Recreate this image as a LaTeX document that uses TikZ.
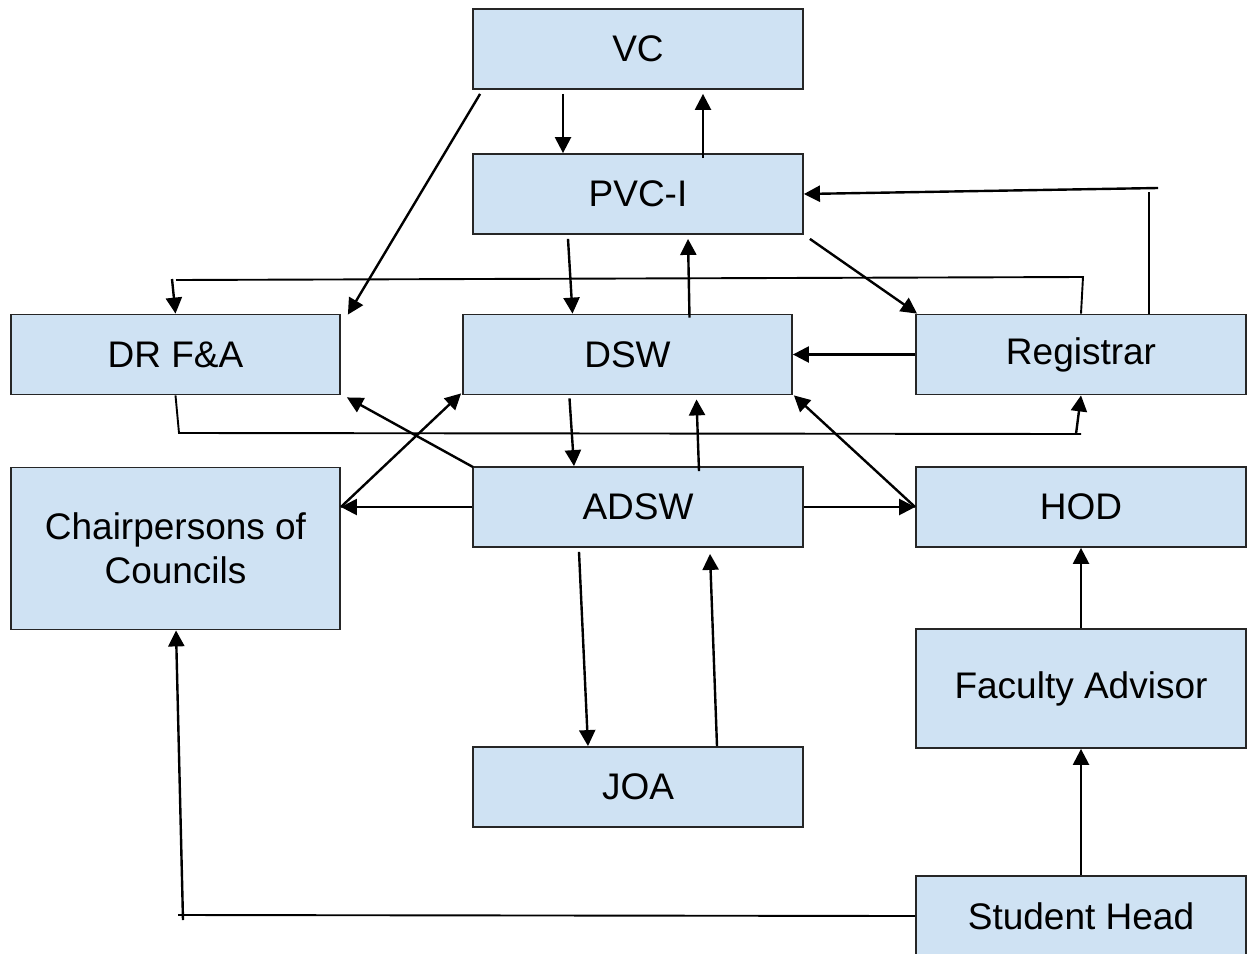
\documentclass[tikz,border=0pt]{standalone}
\usepackage{fontspec}
\setmainfont{Liberation Sans}
\usetikzlibrary{arrows.meta}
\definecolor{boxfill}{HTML}{CFE2F3}
\begin{document}
\begin{tikzpicture}[x=1pt,y=-1pt,
  unit/.style={draw=black!85, line width=1.8pt, fill=boxfill, inner sep=0pt,
    minimum width=330pt, minimum height=80pt, align=center,
    font=\fontsize{37}{44}\selectfont},
  flow/.style={line width=2.4pt, -{Triangle[length=16pt,width=16pt]}},
  link/.style={line width=1.9pt}]
\useasboundingbox (0,0) rectangle (1247,953);
\clip (0,0) rectangle (1247,953);

% units
\node[unit] (vc)    at (638,49)    {\raisebox{-1pt}{VC}};
\node[unit] (pvc)   at (638,194)   {\raisebox{-1pt}{PVC-I}};
\node[unit, minimum width=329pt] (drfa) at (175.5,354.5) {\raisebox{-1pt}{DR F\&A}};
\node[unit, minimum width=329pt] (dsw)  at (627.5,354.5) {\raisebox{-1pt}{DSW}};
\node[unit] (reg)   at (1081,354.5) {\raisebox{-2pt}{Registrar}};
\node[unit, minimum width=329pt, minimum height=162pt] (chair) at (175.5,548.5) {Chairpersons of\\Councils};
\node[unit] (adsw)  at (638,507)   {\raisebox{-1pt}{ADSW}};
\node[unit] (hod)   at (1081,507)  {\raisebox{-1pt}{HOD}};
\node[unit, minimum height=119pt] (fa) at (1081,688.5) {\raisebox{-1pt}{Faculty Advisor}};
\node[unit] (joa)   at (638,787)   {\raisebox{-1pt}{JOA}};
\node[unit] (sh)    at (1081,916)  {\raisebox{-1pt}{Student Head}};

% bend points of the long routes
\coordinate (r1) at (1149,192);
\coordinate (r2) at (1158,188);
\coordinate (c1) at (1083,277);
\coordinate (c2) at (176,280);
\coordinate (c3) at (172,279);
\coordinate (d1) at (179,433);
\coordinate (d2) at (1081,434);
\coordinate (d3) at (1076,434);
\coordinate (e1) at (178,915);
\coordinate (e2) at (183,920);

% VC and PVC-I
\draw[flow] ([xshift=-75pt,yshift=-4pt]vc.south) -- ([xshift=-75pt]pvc.north);
\draw[flow] ([xshift=65pt,yshift=-5pt]pvc.north) -- ([xshift=65pt,yshift=-4pt]vc.south);
\draw[flow] ([xshift=8pt,yshift=-4pt]vc.south west) -- ([xshift=7pt,yshift=-1pt]drfa.north east);

% PVC-I and DSW / Registrar
\draw[flow] ([xshift=-70pt,yshift=-4pt]pvc.south) -- ([xshift=-55pt]dsw.north);
\draw[flow] ([xshift=62pt,yshift=-4pt]dsw.north) -- ([xshift=50pt,yshift=-4pt]pvc.south);
\draw[flow] ([xshift=6pt,yshift=-4pt]pvc.south east) -- ([xshift=2pt]reg.north west);
\draw[link] (reg.north -| r1) -- (r1);
\draw[flow] (r2) -- (pvc.east);

% Registrar and DR F&A
\draw[link] (reg.north) -- (c1) -- (c2);
\draw[flow] (c3) -- (drfa.north);
\draw[link] (drfa.south) -- (d1) -- (d2);
\draw[flow] (d3) -- (reg.south);
\draw[flow] (reg.west) -- (dsw.east);

% DSW and ADSW
\draw[flow] ([xshift=-58pt,yshift=-3pt]dsw.south) -- ([xshift=-64pt]adsw.north);
\draw[flow] ([xshift=61pt,yshift=-5pt]adsw.north) -- ([xshift=69pt,yshift=-4pt]dsw.south);
\draw[flow] ([xshift=1pt,yshift=-1pt]adsw.north west) -- ([xshift=6pt,yshift=-2pt]drfa.south east);
\draw[flow] (adsw.west -| chair.east) -- ([xshift=-1pt,yshift=2pt]dsw.south west);
\draw[flow] (adsw.west) -- (adsw.west -| chair.east);
\draw[flow] (adsw.east) -- (hod.west);
\draw[flow] (hod.west) -- ([xshift=1pt]dsw.south east);

% ADSW and JOA
\draw[flow] ([xshift=-59pt,yshift=-4pt]adsw.south) -- ([xshift=-50pt]joa.north);
\draw[flow] ([xshift=79pt]joa.north) -- ([xshift=72pt,yshift=-6pt]adsw.south);

% student side
\draw[flow] (fa.north) -- (hod.south);
\draw[flow] (sh.north) -- (fa.south);
\draw[link] (sh.west) -- (e1);
\draw[flow] (e2) -- ([xshift=0.5pt]chair.south);
\end{tikzpicture}
\end{document}
